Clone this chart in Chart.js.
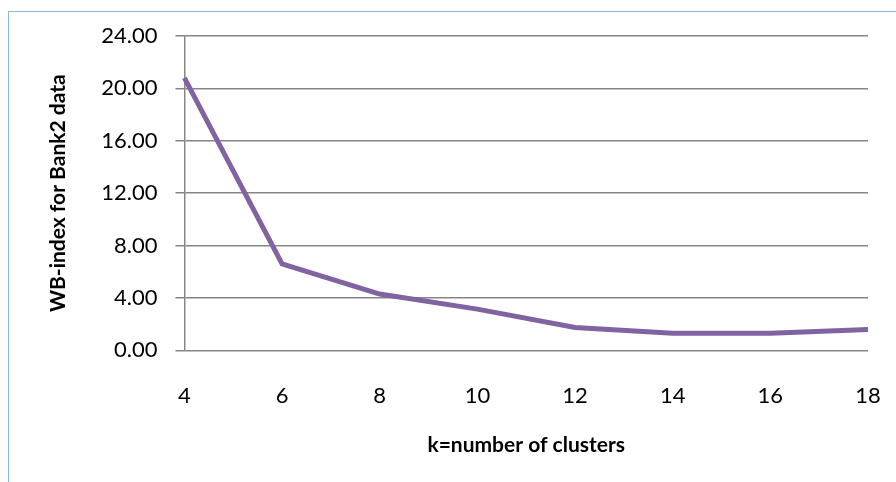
<!DOCTYPE html>
<html>
<head>
<meta charset="utf-8">
<script src="https://cdn.jsdelivr.net/npm/chart.js@4"></script>
<style>
  html, body { margin: 0; padding: 0; background: #fff; }
  #wrap { position: relative; width: 896px; height: 482px; overflow: hidden; }
  #frame { position: absolute; left: 8px; top: 11px; width: 1000px; height: 1000px; border: 1px solid #8eb4e3; }
  #chart { position: absolute; left: 0; top: 0; }
</style>
</head>
<body>
<div id="wrap">
  <div id="frame"></div>
  <canvas id="chart" width="896" height="482"></canvas>
</div>
<script>
// k values and WB-index
const clusters = ['4', '6', '8', '10', '12', '14', '16', '18'];
const wbIndex = [20.8, 6.6, 4.3, 3.15, 1.75, 1.3, 1.3, 1.6];

const font = "Lato, 'Open Sans', sans-serif";

const ctx = document.getElementById('chart').getContext('2d');
const chart = new Chart(ctx, {
    type: 'line',
    data: {
        labels: clusters,
        datasets: [{
            label: 'WB-index',
            data: wbIndex,
            borderColor: '#8064a2',
            borderWidth: 5,
            pointRadius: 0,
            tension: 0,
            fill: false
        }]
    },
    options: {
        responsive: false,
        animation: false,
        layout: {
            padding: { left: 46, right: 28, top: 36, bottom: 24 }
        },
        plugins: {
            legend: { display: false },
            tooltip: { enabled: false }
        },
        scales: {
            x: {
                offset: false,
                // invisible tick marks just make the gap under the axis
                grid: { display: true, color: 'rgba(0,0,0,0)', drawTicks: true, tickLength: 30 },
                border: { display: false },
                ticks: {
                    color: '#000',
                    padding: 2,
                    maxRotation: 0,
                    font: { family: font, size: 22 }
                },
                title: {
                    display: true,
                    text: 'k=number of clusters',
                    color: '#000',
                    padding: { top: 22, bottom: 0 },
                    font: { family: font, size: 21, weight: 'bold' }
                }
            },
            y: {
                min: 0,
                max: 24,
                ticks: {
                    stepSize: 4,
                    color: '#000',
                    padding: 18,
                    font: { family: font, size: 22 },
                    callback: (v) => v.toFixed(2)
                },
                grid: { color: '#868686', lineWidth: 1.5, tickLength: 9 },
                border: { display: true, color: '#868686', width: 1.5 },
                title: {
                    display: true,
                    text: 'WB-index for Bank2 data',
                    color: '#000',
                    padding: { top: 0, bottom: 12 },
                    font: { family: font, size: 21, weight: 'bold' }
                }
            }
        }
    }
});
</script>
</body>
</html>
